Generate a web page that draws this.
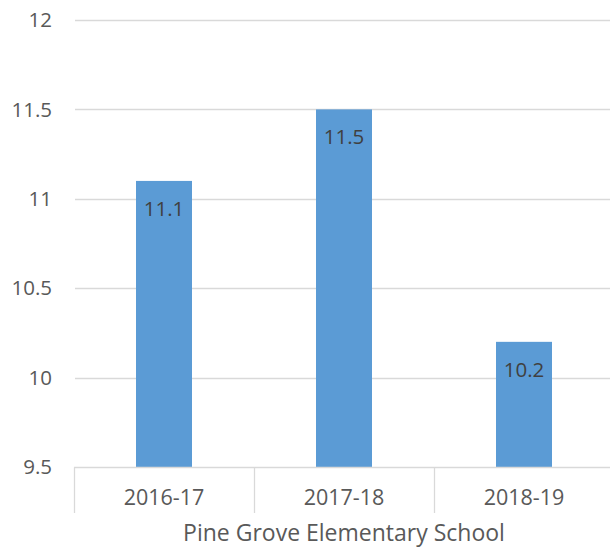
<!DOCTYPE html>
<html>
<head>
<meta charset="utf-8">
<script src="https://cdn.jsdelivr.net/npm/d3@7"></script>
<style>
  body { margin: 0; background: #fff; }
  svg { display: block; font-family: "Open Sans", sans-serif; }
</style>
</head>
<body>
<div id="chart"></div>
<script>
const categories = ["2016-17", "2017-18", "2018-19"];
const values = [11.1, 11.5, 10.2];
const yTicks = [9.5, 10, 10.5, 11, 11.5, 12];
const axisTitle = "Pine Grove Elementary School";

const width = 610;
const height = 550;
const margin = { top: 20, right: -4, bottom: 83, left: 74 };

const svg = d3
  .select("#chart")
  .append("svg")
  .attr("width", width)
  .attr("height", height);

const x = d3
  .scaleBand()
  .domain(categories)
  .range([margin.left, width - margin.right])
  .paddingInner(0)
  .paddingOuter(0);

const y = d3
  .scaleLinear()
  .domain([9.5, 12])
  .range([height - margin.bottom, margin.top]);

const barWidth = 56;

// Gridlines
svg
  .append("g")
  .selectAll("line")
  .data(yTicks.slice(1))
  .join("line")
  .attr("x1", margin.left + 1)
  .attr("x2", width)
  .attr("y1", (d) => Math.round(y(d)) + 0.5)
  .attr("y2", (d) => Math.round(y(d)) + 0.5)
  .attr("stroke", "#d9d9d9")
  .attr("stroke-width", 1.3);

// Y labels
svg
  .append("g")
  .selectAll("text")
  .data(yTicks)
  .join("text")
  .attr("x", 52)
  .attr("y", (d) => y(d))
  .attr("dy", "0.35em")
  .attr("text-anchor", "end")
  .attr("font-size", 20.5)
  .attr("fill", "#595959")
  .text((d) => d);

// Bars
svg
  .append("g")
  .selectAll("rect")
  .data(values)
  .join("rect")
  .attr("x", (d, i) => x(categories[i]) + x.bandwidth() / 2 - barWidth / 2)
  .attr("width", barWidth)
  .attr("y", (d) => y(d))
  .attr("height", (d) => y(9.5) - y(d))
  .attr("fill", "#5b9bd5");

// Bar value labels
svg
  .append("g")
  .selectAll("text")
  .data(values)
  .join("text")
  .attr("x", (d, i) => x(categories[i]) + x.bandwidth() / 2)
  .attr("y", (d) => y(d) + 35)
  .attr("text-anchor", "middle")
  .attr("font-size", 20.5)
  .attr("fill", "#404040")
  .text((d) => d3.format(".1f")(d));

// X axis line and category separators
const axisY = Math.round(y(9.5)) + 0.5;
svg
  .append("line")
  .attr("x1", margin.left)
  .attr("x2", width)
  .attr("y1", axisY)
  .attr("y2", axisY)
  .attr("stroke", "#d9d9d9")
  .attr("stroke-width", 1.3);

const seps = categories.map((c) => x(c));
svg
  .append("g")
  .selectAll("line")
  .data(seps)
  .join("line")
  .attr("x1", (d) => Math.round(d) + 0.5)
  .attr("x2", (d) => Math.round(d) + 0.5)
  .attr("y1", axisY)
  .attr("y2", 513)
  .attr("stroke", "#d9d9d9")
  .attr("stroke-width", 1.3);

// Category labels
svg
  .append("g")
  .selectAll("text")
  .data(categories)
  .join("text")
  .attr("x", (d) => x(d) + x.bandwidth() / 2)
  .attr("y", 505)
  .attr("text-anchor", "middle")
  .attr("font-size", 21.5)
  .attr("fill", "#595959")
  .text((d) => d);

// Axis title
svg
  .append("text")
  .attr("x", 344)
  .attr("y", 541)
  .attr("text-anchor", "middle")
  .attr("font-size", 23)
  .attr("fill", "#595959")
  .text(axisTitle);
</script>
</body>
</html>
